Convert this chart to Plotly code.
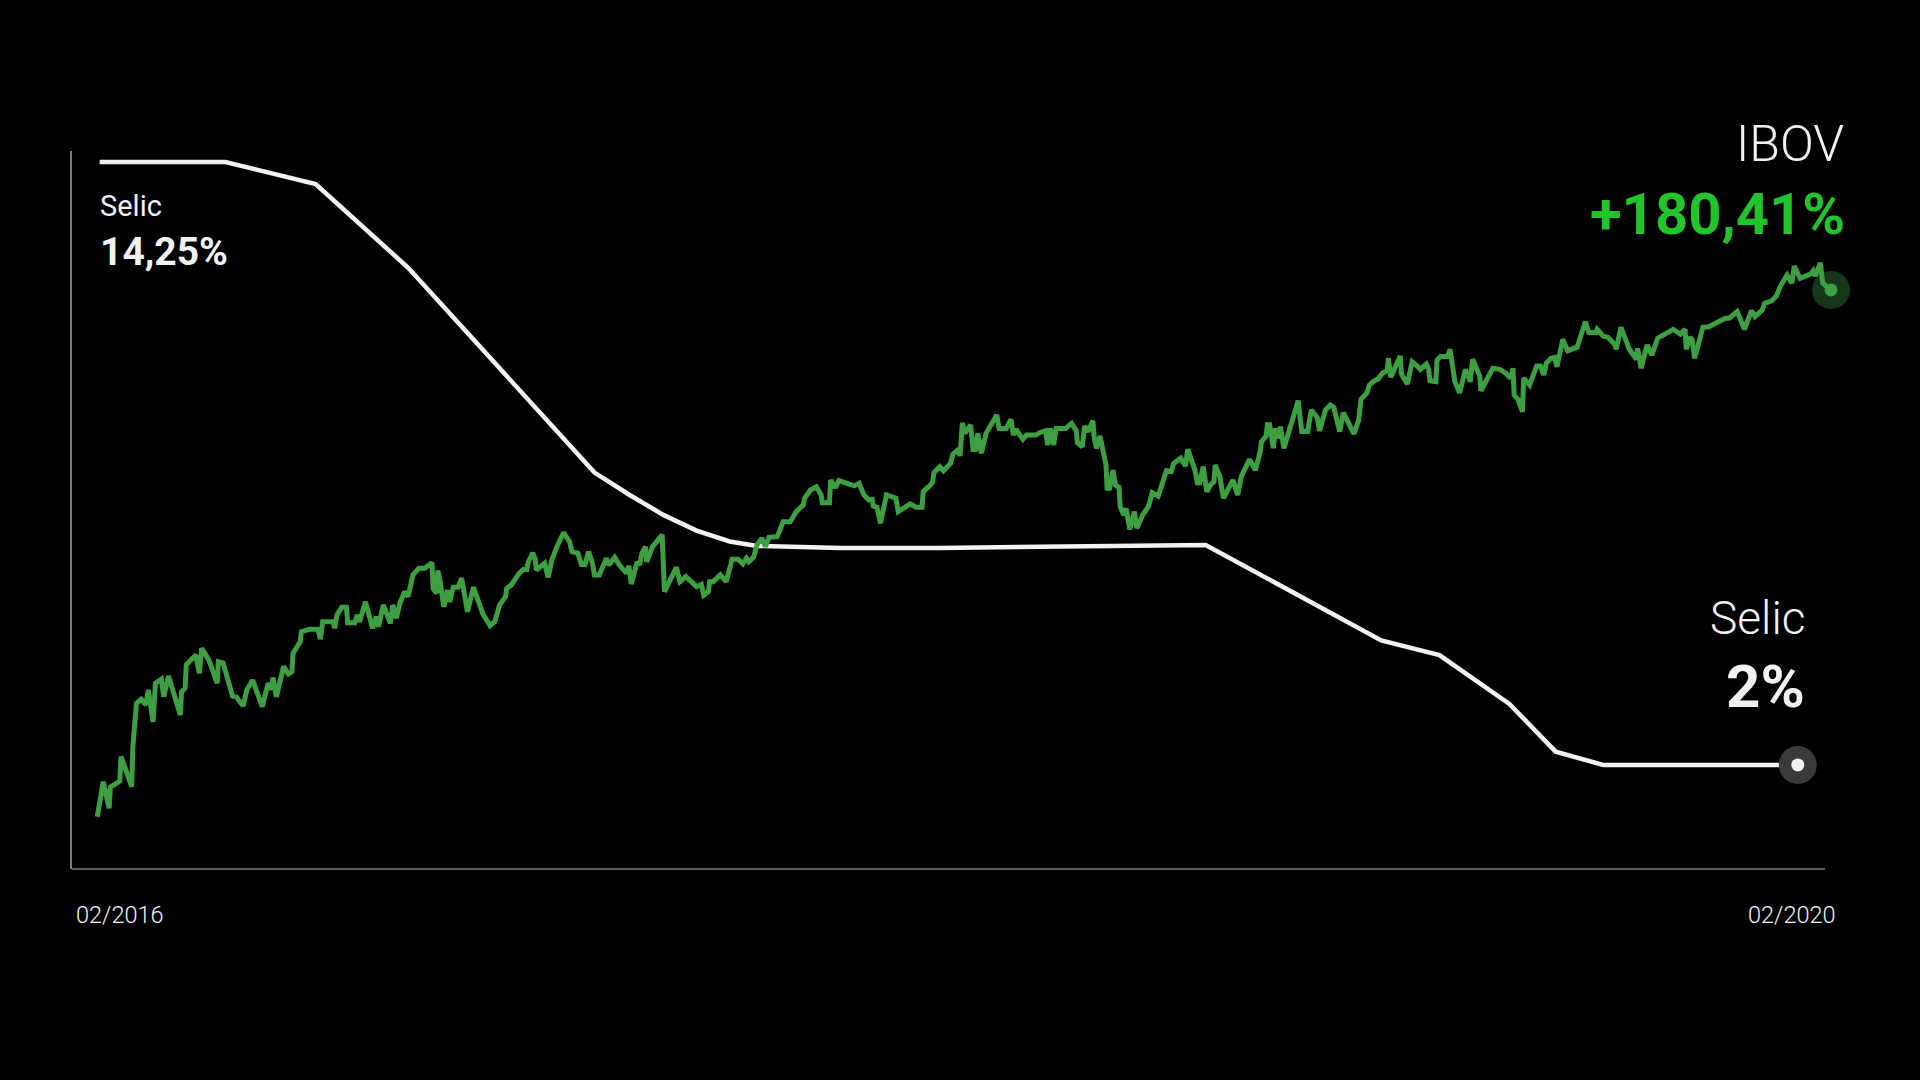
import pandas as pd
import plotly.graph_objects as go

START = pd.Timestamp("2016-02-01")

# Selic rate (% a.a.), day offsets from 02/2016
selic_day = [2, 108, 184, 262, 419, 449, 477, 505, 533, 556, 626, 710, 934,
             1082, 1131, 1190, 1229, 1269, 1433]
selic_val = [14.25, 14.25, 13.8, 12.1, 7.94, 7.48, 7.08, 6.76, 6.54, 6.45, 6.41,
             6.41, 6.47, 4.53, 4.23, 3.24, 2.27, 2.0, 2.0]

# IBOV cumulative return (%) since 02/2016, day offsets
ibov_day = [0, 5, 10, 11, 19, 20, 29, 30, 33, 37, 41, 43, 47, 49, 54, 56, 60, 64, 66, 70,
            71, 74, 75, 83, 86, 88, 94, 101, 102, 106, 114, 117, 123, 126, 131, 139, 144, 147, 148, 151,
            157, 161, 164, 165, 171, 172, 179, 186, 188, 190, 199, 200, 202, 206, 210, 211, 217, 219, 221, 226,
            229, 232, 235, 237, 241, 244, 247, 249, 252, 255, 259, 262, 266, 271, 276, 282, 283, 286, 287, 289,
            292, 295, 297, 300, 304, 307, 312, 317, 325, 331, 335, 339, 344, 345, 349, 355, 359, 362, 363, 367,
            369, 370, 377, 380, 383, 388, 393, 398, 400, 405, 408, 411, 414, 417, 419, 423, 429, 431, 436, 440,
            446, 448, 450, 455, 457, 459, 462, 463, 468, 476, 478, 488, 491, 496, 505, 509, 511, 515, 516, 519,
            525, 530, 535, 540, 544, 547, 549, 553, 556, 560, 563, 566, 573, 578, 584, 589, 595, 596, 601, 606,
            610, 611, 617, 618, 622, 625, 633, 638, 642, 646, 650, 653, 654, 657, 660, 665, 673, 675, 685, 690,
            695, 696, 702, 704, 705, 710, 713, 719, 721, 726, 727, 729, 731, 736, 738, 740, 742, 744, 745, 749,
            752, 758, 760, 766, 770, 772, 774, 780, 783, 791, 794, 799, 801, 803, 806, 808, 816, 821, 825, 826,
            830, 832, 835, 839, 840, 842, 845, 848, 850, 851, 853, 856, 858, 861, 862, 865, 867, 870, 874, 876,
            881, 886, 889, 894, 898, 901, 905, 907, 913, 917, 919, 925, 927, 929, 932, 935, 938, 941, 942, 946,
            949, 957, 961, 964, 971, 976, 980, 981, 985, 986, 988, 991, 993, 995, 997, 1000, 1012, 1014, 1015, 1020,
            1023, 1028, 1030, 1035, 1039, 1042, 1047, 1050, 1059, 1063, 1065, 1070, 1072, 1076, 1079, 1083, 1087, 1088, 1090, 1098,
            1099, 1104, 1108, 1113, 1115, 1120, 1122, 1123, 1128, 1129, 1132, 1138, 1140, 1144, 1148, 1153, 1157, 1159, 1165, 1166,
            1176, 1182, 1187, 1191, 1193, 1194, 1197, 1201, 1202, 1207, 1213, 1216, 1219, 1221, 1225, 1228, 1230, 1235, 1239, 1247,
            1254, 1257, 1263, 1264, 1269, 1273, 1279, 1280, 1284, 1289, 1291, 1297, 1298, 1301, 1306, 1310, 1315, 1321, 1328, 1334,
            1338, 1339, 1342, 1344, 1346, 1353, 1358, 1372, 1375, 1382, 1388, 1394, 1397, 1403, 1405, 1411, 1415, 1418, 1424, 1428,
            1430, 1435, 1440, 1444, 1446, 1448, 1452, 1454, 1461]
ibov_ret = [0.0, 12.0, 2.9, 10.1, 12.2, 20.6, 10.3, 24.0, 38.8, 40.2, 38.3, 43.4, 32.5, 45.7, 47.1, 41.1, 48.2, 42.8, 39.4, 34.8,
            42.8, 44.0, 52.0, 55.4, 49.1, 57.7, 53.7, 45.7, 53.1, 52.7, 41.3, 41.1, 37.9, 43.4, 46.8, 37.7, 45.7, 43.6, 47.7, 41.1,
            51.4, 48.9, 49.7, 56.0, 59.9, 63.4, 64.2, 64.3, 60.8, 66.8, 66.8, 64.5, 69.1, 71.7, 71.7, 66.4, 66.4, 69.1, 66.8, 73.6,
            69.1, 64.5, 68.5, 65.1, 72.5, 69.7, 66.2, 72.5, 68.0, 73.1, 77.1, 75.4, 82.8, 85.1, 85.1, 87.0, 78.2, 76.5, 84.3, 80.5,
            71.9, 77.6, 73.6, 78.6, 78.6, 81.7, 70.2, 78.6, 69.4, 65.4, 66.8, 72.5, 75.4, 78.2, 79.4, 83.1, 84.7, 84.7, 87.0, 90.4,
            88.2, 84.5, 86.8, 82.0, 87.9, 93.1, 97.3, 94.2, 90.8, 90.2, 86.4, 86.4, 90.8, 87.3, 82.8, 82.8, 88.5, 86.2, 88.8, 86.2,
            83.4, 85.9, 79.7, 87.3, 86.2, 90.2, 92.5, 87.3, 92.5, 96.5, 77.1, 85.4, 80.5, 82.2, 78.8, 79.6, 75.9, 77.1, 80.5, 80.5,
            82.8, 80.5, 88.2, 88.2, 86.6, 88.5, 87.3, 88.8, 93.1, 95.4, 92.5, 95.7, 95.9, 101.0, 101.0, 104.5, 106.8, 109.1, 111.9, 113.0,
            110.2, 107.5, 107.5, 115.3, 112.7, 115.1, 114.2, 113.3, 114.2, 110.2, 108.5, 108.7, 106.4, 106.0, 100.5, 110.2, 109.1, 104.5, 107.1, 106.0,
            106.0, 111.3, 113.6, 114.7, 117.8, 119.9, 118.5, 121.0, 124.2, 125.8, 123.5, 134.9, 131.3, 134.2, 125.8, 125.8, 131.3, 124.5, 124.5, 131.3,
            133.6, 137.6, 133.0, 133.0, 136.1, 130.7, 132.7, 129.3, 130.7, 130.7, 131.5, 132.2, 127.3, 133.0, 127.3, 133.0, 133.0, 134.7, 132.2, 128.1,
            126.7, 133.8, 131.9, 135.6, 130.2, 126.2, 130.4, 125.0, 120.5, 112.5, 112.5, 118.7, 113.6, 112.8, 106.2, 103.3, 105.6, 98.4, 104.5, 98.8,
            103.3, 106.4, 111.0, 109.8, 114.2, 118.5, 118.2, 121.0, 122.8, 120.1, 125.8, 118.7, 114.4, 114.4, 119.9, 111.3, 113.6, 114.7, 120.5, 116.5,
            109.1, 115.3, 110.2, 116.5, 122.4, 118.7, 125.0, 128.4, 130.4, 134.2, 134.2, 126.2, 133.0, 129.6, 133.6, 126.2, 142.5, 136.1, 131.9, 131.9,
            139.3, 136.8, 132.2, 139.3, 141.0, 140.2, 131.9, 138.4, 131.1, 135.9, 143.0, 145.2, 147.9, 149.3, 149.8, 151.9, 152.8, 157.0, 150.5, 157.8,
            151.6, 148.2, 155.8, 154.1, 153.2, 155.0, 153.2, 149.3, 149.0, 156.4, 157.6, 157.6, 160.1, 149.0, 145.2, 153.2, 149.0, 156.7, 150.9, 145.9,
            153.6, 153.2, 151.9, 150.2, 153.6, 144.4, 143.0, 138.7, 150.2, 147.9, 154.4, 154.4, 151.3, 155.3, 157.0, 157.3, 154.1, 163.5, 159.6, 160.8,
            169.5, 165.8, 165.8, 166.9, 164.6, 164.2, 161.6, 160.1, 167.6, 162.3, 160.1, 156.7, 160.4, 153.6, 161.6, 158.1, 163.9, 165.3, 166.9, 165.3,
            166.9, 160.1, 164.2, 163.3, 157.0, 167.6, 167.8, 170.7, 170.7, 173.0, 166.9, 173.3, 171.3, 173.5, 175.8, 176.7, 178.3, 181.5, 185.5, 182.7,
            188.6, 184.4, 185.5, 185.9, 187.0, 185.2, 189.7, 182.7, 180.41]

tick_labels = ["02/2016", "02/2020"]
ibov_label = "IBOV"
ibov_total = "+180,41%"
selic_start_label = "14,25%"
selic_end_label = "2%"

selic_x = [START + pd.Timedelta(days=d) for d in selic_day]
ibov_x = [START + pd.Timedelta(days=d) for d in ibov_day]

GREEN = "#3d9f41"
BRIGHT_GREEN = "#22c42b"
WHITE = "#f2f2f5"
AXIS = "#7a7a80"
FONT = "Roboto"

fig = go.Figure()

fig.add_trace(go.Scatter(x=selic_x, y=selic_val, mode="lines",
                         line=dict(color=WHITE, width=4.5), hoverinfo="skip", yaxis="y"))
fig.add_trace(go.Scatter(x=[selic_x[-1]], y=[selic_val[-1]], mode="markers",
                         marker=dict(size=38, color="#3a3a3c"), cliponaxis=False, yaxis="y"))
fig.add_trace(go.Scatter(x=[selic_x[-1]], y=[selic_val[-1]], mode="markers",
                         marker=dict(size=13, color=WHITE), cliponaxis=False, yaxis="y"))

fig.add_trace(go.Scatter(x=[ibov_x[-1]], y=[ibov_ret[-1]], mode="markers",
                         marker=dict(size=38, color="#16361a"), cliponaxis=False, yaxis="y2"))
fig.add_trace(go.Scatter(x=ibov_x, y=ibov_ret, mode="lines",
                         line=dict(color=GREEN, width=5, shape="linear"), hoverinfo="skip", yaxis="y2"))
fig.add_trace(go.Scatter(x=[ibov_x[-1]], y=[ibov_ret[-1]], mode="markers",
                         marker=dict(size=13, color=GREEN), cliponaxis=False, yaxis="y2"))

x_lo = START + pd.Timedelta(days=-21.3)
x_hi = START + pd.Timedelta(days=1477.0)

fig.update_layout(
    width=1920, height=1080,
    paper_bgcolor="black", plot_bgcolor="black",
    showlegend=False,
    margin=dict(l=72, r=70, t=151, b=211),
    xaxis=dict(range=[x_lo, x_hi], showgrid=False, zeroline=False, showticklabels=False,
               ticks="", showline=False, fixedrange=True),
    yaxis=dict(range=[-0.114, 14.473], showgrid=False, zeroline=False, showticklabels=False,
               ticks="", showline=True, linecolor=AXIS, linewidth=1.5, mirror=False),
    yaxis2=dict(range=[-17.91, 228.0], overlaying="y", showgrid=False, zeroline=False,
                showticklabels=False, ticks="", showline=False),
    shapes=[dict(type="line", xref="paper", yref="paper", x0=0, x1=0.98594, y0=0, y1=0,
                 line=dict(color=AXIS, width=1.5))],
)

ann = [
    dict(text="Selic", x=0.0144, y=0.9234, xanchor="left", yanchor="middle",
         font=dict(family=FONT, size=29, color=WHITE, weight=400)),
    dict(text=selic_start_label, x=0.0144, y=0.8593, xanchor="left", yanchor="middle",
         font=dict(family=FONT, size=39, color=WHITE, weight=700)),
    dict(text=ibov_label, x=0.9978, y=1.0097, xanchor="right", yanchor="middle",
         font=dict(family=FONT, size=50, color=WHITE, weight=300)),
    dict(text=ibov_total, x=0.9985, y=0.9116, xanchor="right", yanchor="middle",
         font=dict(family=FONT, size=58, color=BRIGHT_GREEN, weight=700)),
    dict(text="Selic", x=0.9759, y=0.3489, xanchor="right", yanchor="middle",
         font=dict(family=FONT, size=46, color=WHITE, weight=300)),
    dict(text=selic_end_label, x=0.9759, y=0.2542, xanchor="right", yanchor="middle",
         font=dict(family=FONT, size=60, color=WHITE, weight=700)),
    dict(text=tick_labels[0], x=0.0014, y=-0.0641, xanchor="left", yanchor="middle",
         font=dict(family=FONT, size=23.5, color=WHITE, weight=300)),
    dict(text=tick_labels[1], x=0.9930, y=-0.0641, xanchor="right", yanchor="middle",
         font=dict(family=FONT, size=23.5, color=WHITE, weight=300)),
]
for a in ann:
    a.update(xref="paper", yref="paper", showarrow=False)
fig.update_layout(annotations=ann)

fig.write_html("out.html", config={"displayModeBar": False},
               post_script="document.body.style.margin='0';document.body.style.background='black';")
